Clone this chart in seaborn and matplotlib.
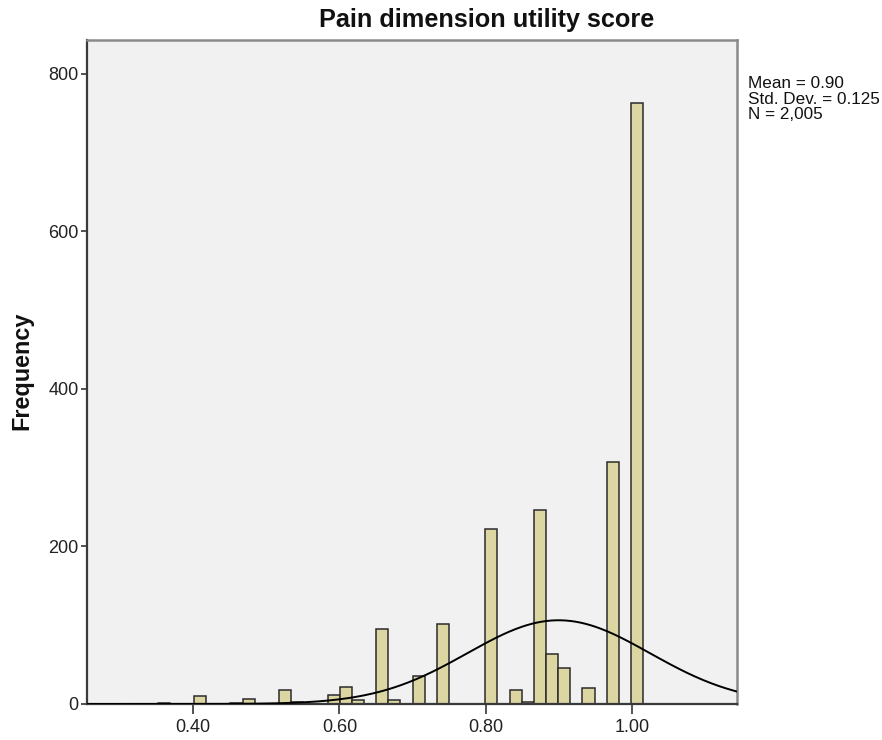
import numpy as np
import pandas as pd
import matplotlib
matplotlib.use("Agg")
import matplotlib.pyplot as plt
import seaborn as sns

# Histogram of the pain dimension utility score (bin centre -> frequency)
bin_centers = [0.3594, 0.4092, 0.4591, 0.4757, 0.5255, 0.5422, 0.5920, 0.6086,
               0.6252, 0.6585, 0.6751, 0.7083, 0.7415, 0.8080, 0.8412, 0.8578,
               0.8744, 0.8911, 0.9077, 0.9409, 0.9741, 1.0074]
frequencies = [1, 10, 1, 6, 18, 3, 12, 21,
               5, 95, 5, 36, 101, 222, 18, 2,
               246, 64, 46, 20, 307, 763]

# Summary statistics shown beside the plot and used for the normal curve
mean_value = 0.90
std_dev = 0.125
n_total = 2005

x_ticks = [0.40, 0.60, 0.80, 1.00]
x_tick_labels = ["0.40", "0.60", "0.80", "1.00"]
y_ticks = [0, 200, 400, 600, 800]

title_text = "Pain dimension utility score"
y_label_text = "Frequency"

# Binning
bin_width = 0.016614
first_edge = 0.99904 - 45 * bin_width
last_edge = 0.99904 + 10 * bin_width

sns.set_theme(style="white")
plt.rcParams["font.family"] = ["Liberation Sans", "DejaVu Sans"]

fig = plt.figure(figsize=(8.82, 7.40), dpi=100)
ax = fig.add_axes([87 / 882, 1 - 704 / 740, (737 - 87) / 882, (704 - 40) / 740])
ax.set_facecolor("#F1F1F1")

df = pd.DataFrame({"score": bin_centers, "count": frequencies})
sns.histplot(data=df, x="score", weights="count", binwidth=bin_width,
             binrange=(first_edge, last_edge), ax=ax,
             color="#DBD6A2", alpha=1.0, edgecolor="#2b2b2b", linewidth=1.1)

# Normal curve scaled to the histogram counts
xs = np.linspace(0.2545, 1.1441, 400)
pdf = np.exp(-0.5 * ((xs - mean_value) / std_dev) ** 2) / (std_dev * np.sqrt(2 * np.pi))
sns.lineplot(x=xs, y=pdf * n_total * bin_width, ax=ax, color="black",
             linewidth=1.4, zorder=5)

ax.set_xlim(0.2545, 1.1441)
ax.set_ylim(0, 843)
ax.set_xticks(x_ticks)
ax.set_xticklabels(x_tick_labels)
ax.set_yticks(y_ticks)
ax.set_xlabel("")
ax.set_ylabel("")

ax.tick_params(axis="x", direction="out", length=7, width=1.3, color="#444444",
               labelsize=13, labelcolor="#222222", pad=4, bottom=True)
ax.tick_params(axis="y", direction="out", length=4.5, width=1.3, color="#444444",
               labelsize=13, labelcolor="#222222", pad=1.5, left=True)

for side in ["left", "bottom"]:
    ax.spines[side].set_color("#3a3a3a")
    ax.spines[side].set_linewidth(1.6)
for side in ["top", "right"]:
    ax.spines[side].set_color("#8a8a8a")
    ax.spines[side].set_linewidth(1.8)

fig.text(487 / 882, 1 - 20 / 740, title_text, ha="center", va="center",
         fontsize=18.2, fontweight="bold", color="#111111")
fig.text(22 / 882, 1 - 371 / 740, y_label_text, ha="center", va="center",
         rotation=90, fontsize=16.8, fontweight="bold", color="#111111")

stats_text = (f"Mean = {mean_value:.2f}\n"
              f"Std. Dev. = {std_dev:.3f}\n"
              f"N = {n_total:,}")
fig.text(748 / 882, 1 - 76 / 740, stats_text, ha="left", va="top",
         fontsize=12.3, linespacing=1.05, color="#111111")

fig.savefig("out.png", dpi=100, facecolor="white")
